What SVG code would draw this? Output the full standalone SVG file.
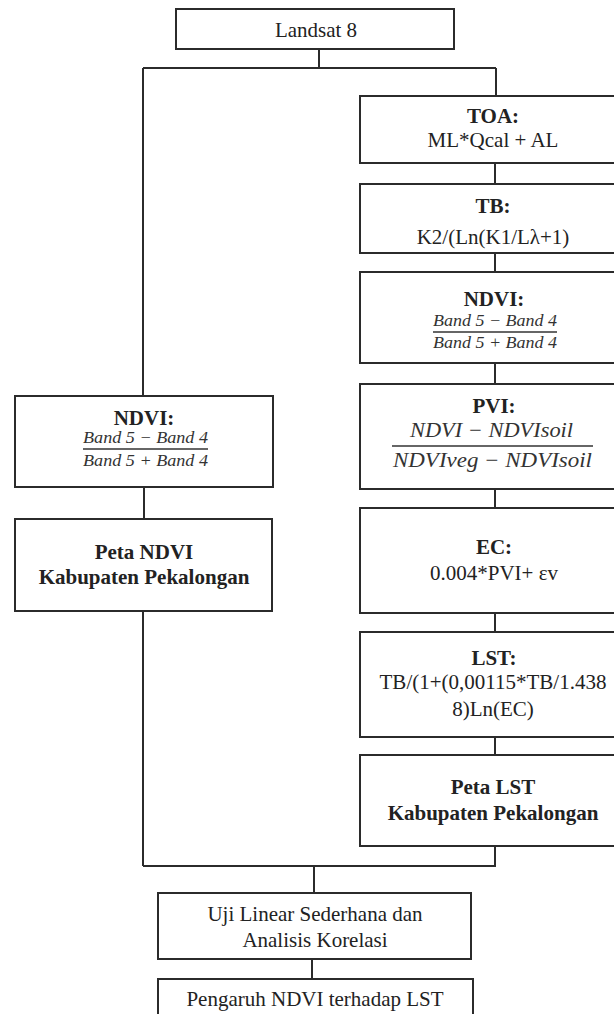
<svg xmlns="http://www.w3.org/2000/svg" width="614" height="1014" viewBox="0 0 614 1014">
<style>
.box{fill:#fff;stroke:#2b2b2b;stroke-width:2}
.con{stroke:#2b2b2b;stroke-width:2;fill:none}
.t{font-family:"Liberation Serif","Times New Roman",serif;font-size:21px;fill:#222;text-anchor:middle}
.b{font-weight:bold}
.m{font-family:"Liberation Serif","Times New Roman",serif;font-style:italic;fill:#333;text-anchor:middle}
.fl{stroke:#333;stroke-width:1.5}
</style>
<rect width="614" height="1014" fill="#fff"/>
<g id="connectors">
<path class="con" d="M319 49V68M143 68H496M143 68V396M496 68V96"/>
<path class="con" d="M495 163V184M495 253V272M495 363V384M495 489V508M495 613V632M495 737V755M495 846V866"/>
<path class="con" d="M144 487V519M143 611V866M143 866H496M314 866V893M312 959V979"/>
</g>
<g id="landsat">
<rect class="box" x="176" y="9" width="278" height="40"/>
<text class="t" x="316" y="37">Landsat 8</text>
</g>
<g id="toa">
<rect class="box" x="360" y="96" width="272" height="67"/>
<text class="t b" x="493" y="123">TOA:</text>
<text class="t" x="493" y="147">ML*Qcal + AL</text>
</g>
<g id="tb">
<rect class="box" x="360" y="184" width="272" height="69"/>
<text class="t b" x="493" y="213">TB:</text>
<text class="t" x="493" y="244">K2/(Ln(K1/Lλ+1)</text>
</g>
<g id="ndvi-right">
<rect class="box" x="360" y="272" width="272" height="91"/>
<text class="t b" x="494" y="306">NDVI:</text>
<text class="m" x="495" y="326" font-size="16" textLength="124" lengthAdjust="spacingAndGlyphs">Band 5 − Band 4</text>
<line class="fl" x1="433" y1="332" x2="557" y2="332"/>
<text class="m" x="495" y="348" font-size="16" textLength="124" lengthAdjust="spacingAndGlyphs">Band 5 + Band 4</text>
</g>
<g id="pvi">
<rect class="box" x="360" y="384" width="272" height="105"/>
<text class="t b" x="494" y="413">PVI:</text>
<text class="m" x="491.5" y="437" font-size="21" textLength="163" lengthAdjust="spacingAndGlyphs">NDVI − NDVIsoil</text>
<line class="fl" x1="392" y1="446" x2="593" y2="446"/>
<text class="m" x="492.5" y="467" font-size="21" textLength="199" lengthAdjust="spacingAndGlyphs">NDVIveg − NDVIsoil</text>
</g>
<g id="ec">
<rect class="box" x="360" y="508" width="272" height="105"/>
<text class="t b" x="494" y="554">EC:</text>
<text class="t" x="494" y="580">0.004*PVI+ εv</text>
</g>
<g id="lst">
<rect class="box" x="360" y="632" width="272" height="105"/>
<text class="t b" x="494" y="665">LST:</text>
<text class="t" x="493" y="689">TB/(1+(0,00115*TB/1.438</text>
<text class="t" x="493" y="716">8)Ln(EC)</text>
</g>
<g id="peta-lst">
<rect class="box" x="360" y="755" width="272" height="91"/>
<text class="t b" x="493" y="794">Peta LST</text>
<text class="t b" x="493" y="820">Kabupaten Pekalongan</text>
</g>
<g id="ndvi-left">
<rect class="box" x="15" y="396" width="258" height="91"/>
<text class="t b" x="144" y="425">NDVI:</text>
<text class="m" x="145.5" y="443" font-size="16" textLength="125" lengthAdjust="spacingAndGlyphs">Band 5 − Band 4</text>
<line class="fl" x1="83" y1="449" x2="208" y2="449"/>
<text class="m" x="145.5" y="466" font-size="16" textLength="125" lengthAdjust="spacingAndGlyphs">Band 5 + Band 4</text>
</g>
<g id="peta-ndvi">
<rect class="box" x="15" y="519" width="257" height="92"/>
<text class="t b" x="144" y="559">Peta NDVI</text>
<text class="t b" x="144" y="584">Kabupaten Pekalongan</text>
</g>
<g id="uji">
<rect class="box" x="158" y="893" width="313" height="66"/>
<text class="t" x="315" y="921">Uji Linear Sederhana dan</text>
<text class="t" x="315" y="947">Analisis Korelasi</text>
</g>
<g id="pengaruh">
<rect class="box" x="158" y="979" width="315" height="45"/>
<text class="t" x="315" y="1006">Pengaruh NDVI terhadap LST</text>
</g>
</svg>
